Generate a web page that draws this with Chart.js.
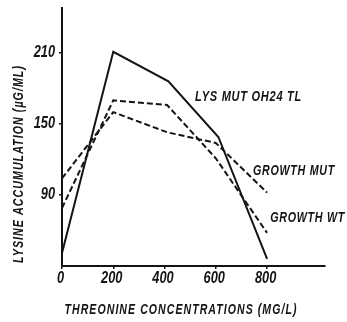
<!DOCTYPE html>
<html><head><meta charset="utf-8">
<script src="https://cdn.jsdelivr.net/npm/chart.js@4/dist/chart.umd.min.js"></script>
<style>html,body{margin:0;padding:0;background:#fff}#wrap{width:347px;height:322px}</style>
</head><body><div id="wrap"><canvas id="c" width="347" height="322"></canvas></div>
<script>
const xTicks = [0, 200, 400, 600, 800];
const yTicks = [90, 150, 210];
const lysX = [0, 200, 415, 610, 800];
const lysY = [41, 211, 186, 139, 36];
const mutX = [0, 200, 410, 600, 800];
const mutY = [104, 160, 143, 134, 92];
const wtX = [0, 200, 410, 600, 800];
const wtY = [79, 170, 166, 121, 58];
const seriesNames = ['LYS MUT OH24 TL', 'GROWTH MUT', 'GROWTH WT'];
const xTitle = 'THREONINE CONCENTRATIONS (MG/L)';
const yTitle = 'LYSINE ACCUMULATION (\u00B5G/ML)';

const FAM = "'Liberation Sans', Arial, sans-serif";
const INK = '#141414';
// label anchors in data units, and target widths (px)
const labelAnchors = [[519, 173, 107], [745, 110, 82], [812, 70.5, 75]];

function pts(xs, ys) { return xs.map((x, i) => ({ x: x, y: ys[i] })); }

// draw text horizontally compressed to a given width (or scale)
function drawText(ctx, text, x, y, opts) {
  ctx.save();
  ctx.font = 'italic bold ' + opts.size + 'px ' + FAM;
  ctx.letterSpacing = (opts.spacing || 0) + 'px';
  const w = ctx.measureText(text).width;
  const sx = opts.width ? opts.width / w : (opts.sx || 0.72);
  ctx.translate(x, y);
  if (opts.rot) ctx.rotate(opts.rot);
  ctx.scale(sx, 1);
  ctx.textBaseline = 'middle';
  ctx.textAlign = opts.align || 'left';
  ctx.fillStyle = INK;
  ctx.fillText(text, 0, 0);
  ctx.restore();
}

const textPlugin = {
  id: 'texts',
  afterDraw(chart) {
    const ctx = chart.ctx;
    const xs = chart.scales.x, ys = chart.scales.y;
    // tick labels
    xTicks.forEach(v => drawText(ctx, String(v), xs.getPixelForValue(v) - 1.5, 279, { size: 16, sx: 0.8, align: 'center' }));
    yTicks.forEach(v => drawText(ctx, String(v), 55, ys.getPixelForValue(v), { size: 16, sx: 0.8, align: 'right' }));
    // series labels
    seriesNames.forEach((n, i) => {
      drawText(ctx, n, xs.getPixelForValue(labelAnchors[i][0]), ys.getPixelForValue(labelAnchors[i][1]),
        { size: 15, width: labelAnchors[i][2], spacing: 1, align: 'left' });
    });
    // axis titles
    drawText(ctx, xTitle, 181, 310, { size: 15, width: 233, spacing: 1.5, align: 'center' });
    drawText(ctx, yTitle, 19, 164, { size: 15, width: 198, spacing: 1.5, align: 'center', rot: -Math.PI / 2 });
  }
};

new Chart(document.getElementById('c'), {
  type: 'line',
  data: {
    datasets: [
      { label: seriesNames[0], data: pts(lysX, lysY), borderColor: INK, borderWidth: 2, pointRadius: 0, tension: 0, fill: false },
      { label: seriesNames[1], data: pts(mutX, mutY), borderColor: INK, borderWidth: 2, borderDash: [6, 3], pointRadius: 0, tension: 0, fill: false },
      { label: seriesNames[2], data: pts(wtX, wtY), borderColor: INK, borderWidth: 2, borderDash: [6, 3], pointRadius: 0, tension: 0, fill: false }
    ]
  },
  options: {
    responsive: false,
    animation: false,
    devicePixelRatio: 1,
    layout: { padding: { left: 0, right: 22, top: 8, bottom: 0 } },
    plugins: { legend: { display: false }, tooltip: { enabled: false }, title: { display: false } },
    scales: {
      x: {
        type: 'linear', min: 0, max: 1026,
        afterBuildTicks: s => { s.ticks = xTicks.map(v => ({ value: v })); },
        afterFit: s => { s.height = 56; },
        grid: { drawOnChartArea: false, tickLength: 3, color: INK, lineWidth: 1.5 },
        border: { color: INK, width: 2 },
        ticks: { display: false }
      },
      y: {
        type: 'linear', min: 30, max: 248,
        afterBuildTicks: s => { s.ticks = yTicks.map(v => ({ value: v })); },
        afterFit: s => { s.width = 62; },
        grid: { drawOnChartArea: false, tickLength: 3, color: INK, lineWidth: 1.5 },
        border: { color: INK, width: 2 },
        ticks: { display: false }
      }
    }
  },
  plugins: [textPlugin]
});
</script></body></html>
